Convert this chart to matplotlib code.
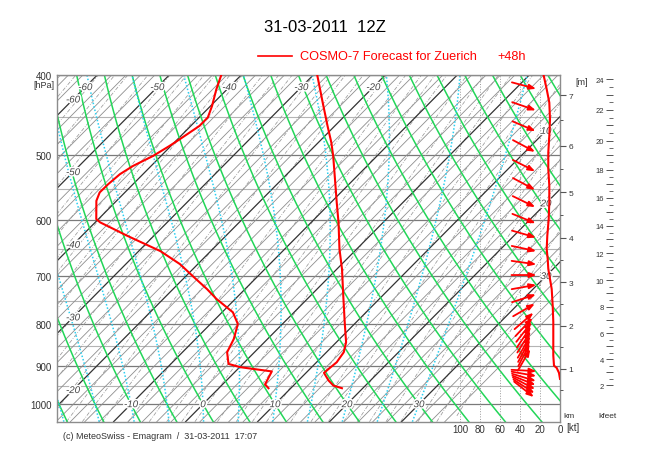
import numpy as np
import matplotlib
matplotlib.use('Agg')
import matplotlib.pyplot as plt
import matplotlib.transforms as mtransforms
import matplotlib.patheffects as pe
from matplotlib.patches import FancyArrowPatch
from matplotlib.lines import Line2D
from matplotlib.ticker import FixedLocator, NullLocator, FixedFormatter, NullFormatter

plt.rcParams['font.family'] = ['Liberation Sans', 'DejaVu Sans']

# COSMO-7 forecast for Zuerich, +48h (hPa / degC)
temp_p = [400, 432.2, 461.3, 483.0, 501.3, 534.8, 570.6, 603.2, 649.6, 686.7,
          739.6, 796.2, 841.8, 865.5, 889.9, 906.6, 916.7, 936.5, 949.6, 956.6]
temp_c = [-29.5, -24.9, -21.0, -18.2, -16.1, -12.65, -9.2, -6.2, -2.4, 0.7,
          4.55, 8.4, 11.35, 12.4, 12.8, 12.6, 12.5, 14.2, 15.55, 17.1]

dewp_p = [400, 416.5, 436.3, 450.5, 461.3, 478.6, 487.6, 501.3, 515.4, 527.5,
          542.3, 554.9, 568.1, 597.7, 603.2, 614.5, 626.1, 653.3, 677.3, 704.1,
          726.0, 746.4, 774.5, 800.1, 834.1, 865.5, 894.1, 902.3, 913.0, 946.5, 956.6]
dewp_c = [-42.8, -41.5, -39.8, -38.8, -38.8, -39.7, -40.2, -41.1, -42.5, -43.2,
          -43.45, -43.5, -42.8, -40.3, -39.3, -36.5, -33.7, -27.0, -22.5, -18.5,
          -15.3, -12.6, -8.5, -6.2, -4.7, -3.8, -2.0, 0.1, 5.05, 5.9, 6.9]

# wind speed profile (kt)
speed_p = [400, 416.5, 432.2, 452.8, 474.2, 496.6, 520.2, 544.8, 570.6, 597.7,
           626.1, 649.6, 667.9, 686.7, 706.1, 726.0, 760.4, 795.6, 834.1, 873.7,
           898.4, 904.1, 916.7, 932.1]
speed_kt = [16.5, 13.3, 10.7, 10, 10.7, 11.7, 11.7, 10.7, 10.7, 11.3,
            12.7, 13.3, 12.3, 11.7, 10, 8.3, 7.3, 6.7, 6.7, 6.7,
            6, 3.3, 1, 0]

# wind direction (deg, blowing from)
wind_p = [412.3, 436.7, 461.6, 487.7, 515.1, 542.0, 569.3, 596.8, 623.1, 648.7,
          674.6, 698.3, 721.9, 745.0, 769.6, 793.4, 806.8, 818.1, 829.5, 841.0,
          852.8, 862.3, 872.1, 884.2, 910.6, 919.2, 928.3, 936.0, 943.8, 951.8, 959.7]
wind_dir = [285, 289, 293, 298, 297, 298, 296, 292, 286, 282,
            278, 270, 260, 252, 240, 229, 223, 218, 214, 212,
            210, 208, 207, 210, 273, 280, 287, 292, 298, 303, 308]

# height scales
km_levels = [1, 2, 3, 4, 5, 6, 7]
km_p = [905.6, 804.5, 712.5, 629.6, 554.6, 487.2, 423.3]
kfeet_levels = [2, 4, 6, 8, 10, 12, 14, 16, 18, 20, 22, 24]

pres_ticks = [400, 500, 600, 700, 800, 900, 1000]
kt_ticks = [100, 80, 60, 40, 20, 0]

# background line sets
iso_temps = np.arange(-70, 37, 2)
dry_thetas = np.arange(-30, 95, 5)
moist_thetas = [-20, -15, -10, -5, 0, 5, 10, 15, 20, 25, 30]
mix_ratios = [0.01, 0.015, 0.02, 0.03, 0.04, 0.05, 0.07, 0.1, 0.13, 0.17, 0.2, 0.25,
              0.3, 0.4, 0.5, 0.6, 0.8, 1, 1.2, 1.5, 2, 2.5, 3, 3.5, 4, 5, 6, 7, 8,
              10, 12, 14, 16, 18, 20, 23, 26, 30, 35, 40]

SKEW = 49.5
P_BOT, P_TOP = 1050, 400


def skx(t, p):
    return np.asarray(t) + SKEW * np.log(1000.0 / np.asarray(p))


def km_to_p(h):
    h = np.asarray(h, float)
    lnp = np.log(km_p)
    out = np.interp(h, km_levels, lnp)
    s0 = (lnp[1] - lnp[0]) / (km_levels[1] - km_levels[0])
    s1 = (lnp[-1] - lnp[-2]) / (km_levels[-1] - km_levels[-2])
    lo = h < km_levels[0]
    hi = h > km_levels[-1]
    out[lo] = lnp[0] + s0 * (h[lo] - km_levels[0])
    out[hi] = lnp[-1] + s1 * (h[hi] - km_levels[-1])
    return np.exp(out)


def moist_adiabat(t0, plev):
    Rd, cp, Lv, eps = 287.04, 1005.7, 2.501e6, 0.622

    def rate(T, p):
        tc = T - 273.15
        es = 6.112 * np.exp(17.67 * tc / (tc + 243.5))
        rs = eps * es / (p - es)
        return (Rd * T + Lv * rs) / (p * (cp + Lv ** 2 * rs * eps / (Rd * T ** 2)))

    T = t0 + 273.15
    out = [T]
    for pa, pb in zip(plev[:-1], plev[1:]):
        dp = pb - pa
        k1 = rate(T, pa)
        k2 = rate(T + dp * k1, pb)
        T = T + 0.5 * dp * (k1 + k2)
        out.append(T)
    return np.array(out) - 273.15


fig = plt.figure(figsize=(6.5, 4.6), dpi=100)
W, H = 650.0, 460.0
x0, x1, y0, y1 = 57, 560, 75.7, 422.7
ax = fig.add_axes([x0 / W, 1 - y1 / H, (x1 - x0) / W, (y1 - y0) / H])
ax.set_yscale('log')
ax.set_ylim(P_BOT, P_TOP)
ax.set_xlim((x0 - 203) / 7.2, (x1 - 203) / 7.2)

pp = np.geomspace(P_BOT, P_TOP, 120)

# horizontal pressure lines
for p in range(400, 1001, 50):
    if p % 100 == 0:
        ax.axhline(p, color='#7a7a7a', lw=0.9, zorder=1)
    else:
        ax.axhline(p, color='#b4b4b4', lw=0.8, zorder=1)

# isotherms
for t in iso_temps:
    if t % 10 == 0:
        ax.plot(skx(t, pp), pp, color='#333333', lw=0.9, zorder=1.2)
    else:
        ax.plot(skx(t, pp), pp, color='#8e8e8e', lw=0.6, zorder=1.1)

# mixing ratio lines
for w in mix_ratios:
    e = (w / 1000.0) * pp / (0.622 + w / 1000.0)
    lg = np.log(e / 6.112)
    td = 243.5 * lg / (17.67 - lg)
    td = np.where(td > 37, np.nan, td)
    ax.plot(skx(td, pp), pp, color='#9a9a9a', lw=0.55, ls=(0, (5, 2, 1, 2)), zorder=1.1)

# dry adiabats
for th in dry_thetas:
    t = (th + 273.15) * (pp / 1000.0) ** 0.2857 - 273.15
    ax.plot(skx(t, pp), pp, color='#22d658', lw=1.1, zorder=2)

# saturated adiabats
p_up = np.linspace(1000, P_TOP, 301)
p_dn = np.linspace(1000, P_BOT, 26)
for tw in moist_thetas:
    t_up = moist_adiabat(tw, p_up)
    t_dn = moist_adiabat(tw, p_dn)
    pm = np.concatenate([p_dn[::-1], p_up[1:]])
    tm = np.concatenate([t_dn[::-1], t_up[1:]])
    ax.plot(skx(tm, pm), pm, color='#2ccff0', lw=1.1, ls=(0, (1, 1.3)), zorder=2)

# isotherm labels
halo = [pe.withStroke(linewidth=2.2, foreground='white')]
lab_kw = dict(style='italic', fontsize=7, color='#444444', ha='center', va='center',
              zorder=3, path_effects=halo)
for t in [-60, -50, -40, -30, -20]:
    ax.text(skx(t, 414), 414, str(t), **lab_kw)
x_left = (73 - 203) / 7.2
for t in [-60, -50, -40, -30, -20]:
    ax.text(x_left, 1000 * np.exp(-(x_left - t) / SKEW), str(t), **lab_kw)
x_right = (546 - 203) / 7.2
for t in [10, 20, 30]:
    ax.text(x_right, 1000 * np.exp(-(x_right - t) / SKEW), str(t), **lab_kw)
for t in [-10, 0, 10, 20, 30]:
    ax.text(t, 1000, str(t), **lab_kw)

# profile
ax.plot(skx(temp_c, temp_p), temp_p, color='red', lw=1.5, zorder=5)
ax.plot(skx(dewp_c, dewp_p), dewp_p, color='red', lw=1.5, zorder=5)

ax.set_xticks([])
ax.yaxis.set_major_locator(FixedLocator(pres_ticks))
ax.yaxis.set_major_formatter(FixedFormatter([str(v) for v in pres_ticks]))
ax.yaxis.set_minor_locator(NullLocator())
ax.tick_params(axis='y', length=0, pad=4, labelsize=7, labelcolor='#333333')
for s in ax.spines.values():
    s.set_color('#8c8c8c')
    s.set_linewidth(1.0)

# wind axis (kt)
ax2 = ax.twiny()
ax2.set_xlim(503, 0)
ax2.xaxis.set_ticks_position('bottom')
ax2.set_xticks(kt_ticks)
ax2.tick_params(axis='x', length=0, pad=2, labelsize=7, labelcolor='#333333')
for s in ax2.spines.values():
    s.set_visible(False)
for v in kt_ticks[:-1]:
    ax2.axvline(v, color='#9a9a9a', lw=0.7, ls=':', zorder=1)
ax2.plot(speed_kt, speed_p, color='red', lw=1.5, zorder=5)

ARROW_IN = 0.25
ARROW_KT = 36
for p, d in zip(wind_p, wind_dir):
    a = np.deg2rad(270 - d)
    dx, dy = 0.5 * ARROW_IN * np.cos(a), 0.5 * ARROW_IN * np.sin(a)
    tr = fig.dpi_scale_trans + mtransforms.ScaledTranslation(ARROW_KT, p, ax2.transData)
    arr = FancyArrowPatch((-dx, -dy), (dx, dy), transform=tr,
                          arrowstyle='-|>,head_length=0.4,head_width=0.15',
                          mutation_scale=10, color='red', lw=1.3,
                          shrinkA=0, shrinkB=0, zorder=6)
    ax2.add_artist(arr)

# km axis
ax3 = ax.twinx()
ax3.set_yscale('log')
ax3.set_ylim(P_BOT, P_TOP)
for s in ax3.spines.values():
    s.set_visible(False)
ax3.yaxis.set_major_locator(FixedLocator(km_to_p(km_levels)))
ax3.yaxis.set_major_formatter(FixedFormatter([str(k) for k in km_levels]))
ax3.yaxis.set_minor_locator(FixedLocator(km_to_p(np.arange(0.5, 7.6, 1.0))))
ax3.yaxis.set_minor_formatter(NullFormatter())
ax3.tick_params(axis='y', which='major', direction='out', length=4, width=0.8,
                color='#555555', labelsize=6, pad=2, labelcolor='#333333')
ax3.tick_params(axis='y', which='minor', direction='out', length=2.5, width=0.7,
                color='#555555')

# kfeet axis
axk = fig.add_axes([613 / W, 1 - y1 / H, 0.0001, (y1 - y0) / H])
axk.set_yscale('log')
axk.set_ylim(P_BOT, P_TOP)
axk.set_xticks([])
axk.patch.set_visible(False)
for s in axk.spines.values():
    s.set_visible(False)
kft_all = np.arange(2, 25)
axk.yaxis.set_major_locator(FixedLocator(km_to_p(kft_all * 0.3048)))
axk.yaxis.set_major_formatter(FixedFormatter([str(k) if k in kfeet_levels else '' for k in kft_all]))
axk.yaxis.set_minor_locator(FixedLocator(km_to_p((kft_all[:-1] + 0.5) * 0.3048)))
axk.yaxis.set_minor_formatter(NullFormatter())
axk.tick_params(axis='y', which='major', direction='out', length=5, width=0.7,
                color='#555555', labelsize=5.5, pad=1.5, labelcolor='#333333')
axk.tick_params(axis='y', which='minor', direction='out', length=3, width=0.6,
                color='#555555')

# texts
fig.text(0.5, 1 - 28 / H, '31-03-2011  12Z', ha='center', va='center', fontsize=12)
fig.add_artist(Line2D([258 / W, 292 / W], [1 - 57 / H] * 2, transform=fig.transFigure,
                      color='red', lw=1.2))
fig.text(300 / W, 1 - 57 / H, 'COSMO-7 Forecast for Zuerich', color='red',
         ha='left', va='center', fontsize=9.2)
fig.text(497 / W, 1 - 57 / H, '+48h', color='red', ha='left', va='center', fontsize=9.2)
fig.text(55 / W, 1 - 86 / H, '[hPa]', ha='right', va='center', fontsize=6.5, color='#333333')
fig.text(575 / W, 1 - 83 / H, '[m]', ha='left', va='center', fontsize=6.5, color='#333333')
fig.text(563 / W, 1 - 417 / H, 'km', ha='left', va='center', fontsize=6, color='#333333')
fig.text(598 / W, 1 - 417 / H, 'kfeet', ha='left', va='center', fontsize=6, color='#333333')
fig.text(566 / W, 1 - 428 / H, '[kt]', ha='left', va='center', fontsize=7, color='#333333')
fig.text(63 / W, 1 - 437 / H, '(c) MeteoSwiss - Emagram  /  31-03-2011  17:07',
         ha='left', va='center', fontsize=6.5, color='#333333')

fig.savefig('out.png', dpi=100)
